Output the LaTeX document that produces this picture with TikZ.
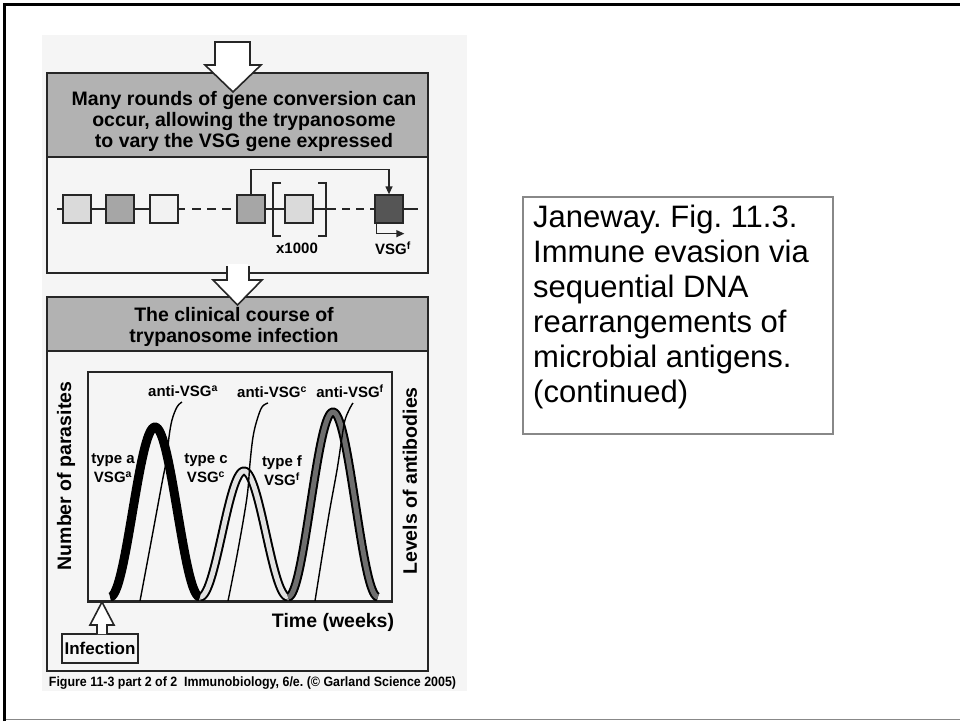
\documentclass[tikz,border=0pt]{standalone}
\usepackage{fontspec}
\setmainfont{Liberation Sans}
\usetikzlibrary{arrows.meta}
\definecolor{figbg}{HTML}{F5F5F5}
\definecolor{hdrgray}{HTML}{B2B2B2}
\definecolor{glight}{HTML}{DADADA}
\definecolor{gmid}{HTML}{A6A6A6}
\definecolor{gvlight}{HTML}{F2F2F2}
\definecolor{gdark}{HTML}{555555}
\definecolor{cgray}{HTML}{E2E2E2}
\definecolor{fgray}{HTML}{6E6E6E}
\definecolor{framegray}{HTML}{888888}
\frenchspacing
\begin{document}
\begin{tikzpicture}[x=1pt,y=-1pt,
  panel/.style={draw=black!85, line width=2pt, fill=figbg, minimum width=381pt, inner sep=0pt},
  hdrbox/.style={draw=black!85, line width=2pt, fill=hdrgray, minimum width=381pt, inner sep=0pt},
  hdr/.style={font=\bfseries\fontsize{19.5}{21}\selectfont, align=center, inner sep=0pt},
  lbl/.style={font=\bfseries\fontsize{15}{19}\selectfont, align=center, inner sep=0pt},
  genebox/.style={draw=black!85, line width=1.3pt, minimum width=28pt, minimum height=28pt, inner sep=0pt},
  gline/.style={draw=black!85, line width=1.3pt},
  hollow/.style={draw=black!85, fill=white, line width=1.6pt, line join=miter},
  hollowline/.style={draw=black!85, line width=1.6pt, line join=miter},
  thinab/.style={draw=black, line width=1.4pt},
  axlbl/.style={font=\bfseries\fontsize{19.5}{21}\selectfont, inner sep=0pt, rotate=90}
]
\useasboundingbox (0,0) rectangle (960,721);
% slide frame
\draw[framegray, line width=1.5pt] (4.5,719.5) -- (960,719.5);
\draw[black, line width=2.5pt] (4.5,721) -- (4.5,4.5) -- (960,4.5);

% figure background
\fill[figbg] (42,35) rectangle (467,691);

% panel 1
\node[panel, minimum height=200pt] (p1) at (237.5,173) {};
\node[hdrbox, minimum height=84pt] (h1) at (237.5,115) {};
\node[hdr] (t1) at (244,121) {Many rounds of gene conversion can\\occur, allowing the trypanosome\\to vary the VSG gene expressed};

% panel 2
\node[panel, minimum height=374pt] (p2) at (237.5,484) {};
\node[hdrbox, minimum height=54pt] (h2) at (237.5,324) {};
\node[hdr] (t2) at (234,327) {The clinical course of\\trypanosome infection};

% hollow arrows
\draw[hollow] (215,42) -- (250,42) -- (250,65) -- (261,65) -- (233,92) -- (205,65) -- (215,65) -- cycle;
\fill[white] (227.8,264) rectangle (248.2,281);
\fill[white] (227,280) -- (213,280) -- (237.5,305) -- (262,280) -- cycle;
\draw[hollowline] (227,266) -- (227,280) -- (213,280) -- (237.5,305) -- (262,280) -- (249,280) -- (249,266);

% gene row
\coordinate (lstart) at (57,209);
\coordinate (lend) at (418,209);
\coordinate (d1b) at (192,209);
\coordinate (d2b) at (342,209);
\draw[gline] (lstart) -- (lend);
\fill[figbg] (184.5,205) rectangle (236,213);
\fill[figbg] (335.5,205) rectangle (374,213);
\node[genebox, fill=glight] (g1) at (77,209) {};
\node[genebox, fill=gmid] (g2) at (120,209) {};
\node[genebox, fill=gvlight] (g3) at (164,209) {};
\node[genebox, fill=gmid] (g4) at (251,209) {};
\node[genebox, fill=glight] (g5) at (299,209) {};
\node[genebox, fill=gdark] (g6) at (389,209) {};
\draw[gline, dash pattern=on 9pt off 6pt] (d1b) -- (g4.west);
\draw[gline, dash pattern=on 8pt off 6pt] (d2b) -- (g6.west);
% brackets
\draw[gline] (281,183) -- (273,183) -- (273,236) -- (281,236);
\draw[gline] (318,183) -- (326,183) -- (326,236) -- (318,236);
% conversion arrow
\draw[gline, -{Triangle[length=8pt,width=7pt]}] (g4.north) -- ++(0,-25) -| (g6.north);
% promoter arrow
\draw[gline, -{Triangle[length=8pt,width=7pt]}] (g6.south west) ++(2,0) |- ++(28,10);
\node[lbl] (x1000) at (297,248) {x1000};
\node[lbl] (vsgf) at (393,248) {VSG\textsuperscript{f}};

% plot frame
\node[draw=black!85, line width=2pt, minimum width=304pt, minimum height=229pt, inner sep=0pt] (plot) at (240,486.5) {};
\begin{scope}
  \clip (88,372) rectangle (392,600);
  \draw[line width=9pt] plot[domain=0:1,samples=80] ({200+88*\x},{597-126*(1-cos(360*\x))/2});
  \draw[line width=5pt, cgray] plot[domain=0:1,samples=80] ({200+88*\x},{597-126*(1-cos(360*\x))/2});
  \draw[line width=9pt] plot[domain=0:1,samples=80] ({110+90*\x},{597-170*(1-cos(360*\x))/2});
  \draw[line width=9pt] plot[domain=0:1,samples=80] ({288+90*\x},{597-185*(1-cos(360*\x))/2});
  \draw[line width=5pt, fgray] plot[domain=0:1,samples=80] ({288+90*\x},{597-185*(1-cos(360*\x))/2});
  % antibody curves
  \draw[thinab] plot[smooth, tension=0.6] coordinates {(140,601) (152,537) (162,483) (167,457) (169,437) (172,420) (177,407) (182,402)};
  \draw[thinab] plot[smooth, tension=0.6] coordinates {(228,601) (238,550) (247,497) (250,463) (253,437) (257,420) (262,407) (268,403)};
  \draw[thinab] plot[smooth, tension=0.6] coordinates {(315,601) (328,520) (337,470) (342,437) (345,420) (350,408) (353,403)};
\end{scope}
\draw[black!85, line width=2.8pt] (plot.south west) -- (plot.south east);

\node[lbl] (antia) at (183,391) {anti-VSG\textsuperscript{a}};
\node[lbl] (antic) at (272,392) {anti-VSG\textsuperscript{c}};
\node[lbl] (antif) at (350,391) {anti-VSG\textsuperscript{f}};
\node[lbl] (typea) at (113,468) {type a\\VSG\textsuperscript{a}};
\node[lbl] (typec) at (206,468) {type c\\VSG\textsuperscript{c}};
\node[lbl] (typef) at (282,471) {type f\\VSG\textsuperscript{f}};

\node[axlbl] (ylab) at (66,476) {Number of parasites};
\node[axlbl] (ylab2) at (410,481) {Levels of antibodies};
\node[hdr] (xlab) at (333,622) {Time (weeks)};

% infection
\node[draw=black!85, line width=1.8pt, minimum width=76pt, minimum height=29pt, inner sep=0pt, font=\bfseries\fontsize{17}{19}\selectfont] (inf) at (100,648.5) {Infection};
\fill[white] (97,634) -- (97,625) -- (90,625) -- (102,602) -- (114,625) -- (107,625) -- (107,634) -- cycle;
\draw[hollowline] (97,634) -- (97,625) -- (90,625) -- (102,602) -- (114,625) -- (107,625) -- (107,634);

% caption
\node[inner sep=0pt, font=\bfseries\fontsize{13.5}{15}\selectfont] (cap) at (252.5,683) {\scalebox{0.92}[1]{Figure 11-3 part 2 of 2\ \ Immunobiology, 6/e. (© Garland Science 2005)}};

% description box
\node[draw=framegray, line width=1.2pt, minimum width=310pt, minimum height=237pt, inner sep=0pt] (descbox) at (678,315.5) {};
\node[anchor=north west, inner sep=0pt, align=left, font=\fontsize{31}{35}\selectfont] (desc) at (533,205) {Janeway. Fig. 11.3.\\Immune evasion via\\sequential DNA\\rearrangements of\\microbial antigens.\\(continued)};
\end{tikzpicture}
\end{document}
